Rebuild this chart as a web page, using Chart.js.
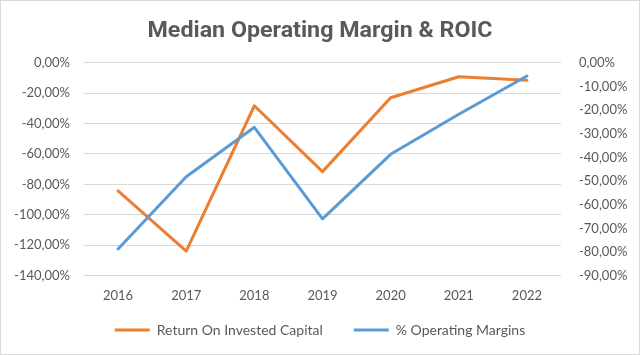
<!DOCTYPE html>
<html>
<head>
<meta charset="utf-8">
<script src="https://cdn.jsdelivr.net/npm/chart.js@4/dist/chart.umd.min.js"></script>
<style>
  html, body { margin: 0; padding: 0; background: #fff; }
  #wrap { width: 640px; height: 355px; position: relative; }
</style>
</head>
<body>
<div id="wrap"><canvas id="c" width="640" height="355"></canvas></div>
<script>
const categories = ['2016', '2017', '2018', '2019', '2020', '2021', '2022'];
const roicValues = [-84.3, -123.8, -28.3, -71.6, -23.0, -9.2, -11.6];
const operatingMarginValues = [-78.7, -48.2, -27.3, -66.0, -38.7, -21.8, -5.6];
const leftTicks = [0, -20, -40, -60, -80, -100, -120, -140];
const rightTicks = [0, -10, -20, -30, -40, -50, -60, -70, -80, -90];
const seriesNames = ['Return On Invested Capital', '% Operating Margins'];
const titleText = 'Median Operating Margin & ROIC';

const TEXT = '#595959';
const GRID = '#d9d9d9';
const fmt = v => Number(v).toFixed(2).replace('.', ',') + '%';

const decorPlugin = {
  id: 'decor',
  afterLayout(chart) {
    const L = chart.legend;
    if (L) {
      const h = L.bottom - L.top;
      L.top = 292;
      L.bottom = 292 + h;
    }
  },
  beforeDraw(chart) {
    const ctx = chart.ctx;
    ctx.save();
    ctx.fillStyle = '#ffffff';
    ctx.fillRect(0, 0, chart.width, chart.height);
    ctx.strokeStyle = '#d9d9d9';
    ctx.lineWidth = 1;
    ctx.strokeRect(0.5, 0.5, chart.width - 1, chart.height - 1);
    ctx.restore();
  },
  afterDraw(chart) {
    const ctx = chart.ctx;
    ctx.save();
    ctx.font = 'bold 22px Roboto, "DejaVu Sans", sans-serif';
    ctx.fillStyle = TEXT;
    ctx.textAlign = 'center';
    ctx.textBaseline = 'alphabetic';
    const w = ctx.measureText(titleText).width;
    const sx = 345 / w;
    ctx.translate(320, 37);
    ctx.scale(sx, 1);
    ctx.fillText(titleText, 0, 0);
    ctx.restore();
  }
};

new Chart(document.getElementById('c'), {
  type: 'line',
  data: {
    labels: categories,
    datasets: [
      {
        label: seriesNames[0],
        data: roicValues,
        yAxisID: 'yLeft',
        borderColor: '#ED7D31',
        backgroundColor: '#ED7D31',
        borderWidth: 3,
        pointRadius: 0,
        tension: 0,
        borderCapStyle: 'round',
        borderJoinStyle: 'round',
        order: 1
      },
      {
        label: seriesNames[1],
        data: operatingMarginValues,
        yAxisID: 'yRight',
        borderColor: '#5B9BD5',
        backgroundColor: '#5B9BD5',
        borderWidth: 3,
        pointRadius: 0,
        tension: 0,
        borderCapStyle: 'round',
        borderJoinStyle: 'round',
        order: 0
      }
    ]
  },
  options: {
    responsive: false,
    animation: false,
    layout: { padding: { left: 0, right: 0, top: 62.7, bottom: 0 } },
    plugins: {
      tooltip: { enabled: false },
      title: { display: false },
      legend: {
        position: 'bottom',
        labels: {
          usePointStyle: true,
          pointStyle: 'line',
          pointStyleWidth: 35,
          color: TEXT,
          font: { family: 'Lato, sans-serif', size: 14 },
          padding: 31,
          sort: (a, b) => a.datasetIndex - b.datasetIndex
        }
      }
    },
    scales: {
      x: {
        offset: true,
        afterFit: s => { s.height = 24.3; },
        grid: { display: false, drawTicks: false },
        border: { display: false },
        ticks: { color: TEXT, font: { family: 'Lato, sans-serif', size: 13 }, padding: 12, maxRotation: 0 }
      },
      yLeft: {
        position: 'left',
        min: -140, max: 0,
        afterBuildTicks: s => { s.ticks = leftTicks.map(v => ({ value: v })); },
        afterFit: s => { s.width = 84; },
        grid: { color: GRID, lineWidth: 1, drawTicks: false },
        border: { display: false },
        ticks: { color: TEXT, font: { family: 'Lato, sans-serif', size: 13 }, padding: 14, callback: v => fmt(v) }
      },
      yRight: {
        position: 'right',
        min: -90, max: 0,
        afterBuildTicks: s => { s.ticks = rightTicks.map(v => ({ value: v })); },
        afterFit: s => { s.width = 79; },
        grid: { display: false, drawTicks: false },
        border: { display: false },
        ticks: { color: TEXT, font: { family: 'Lato, sans-serif', size: 13 }, padding: 18, callback: v => fmt(v) }
      }
    }
  },
  plugins: [decorPlugin]
});
</script>
</body>
</html>
